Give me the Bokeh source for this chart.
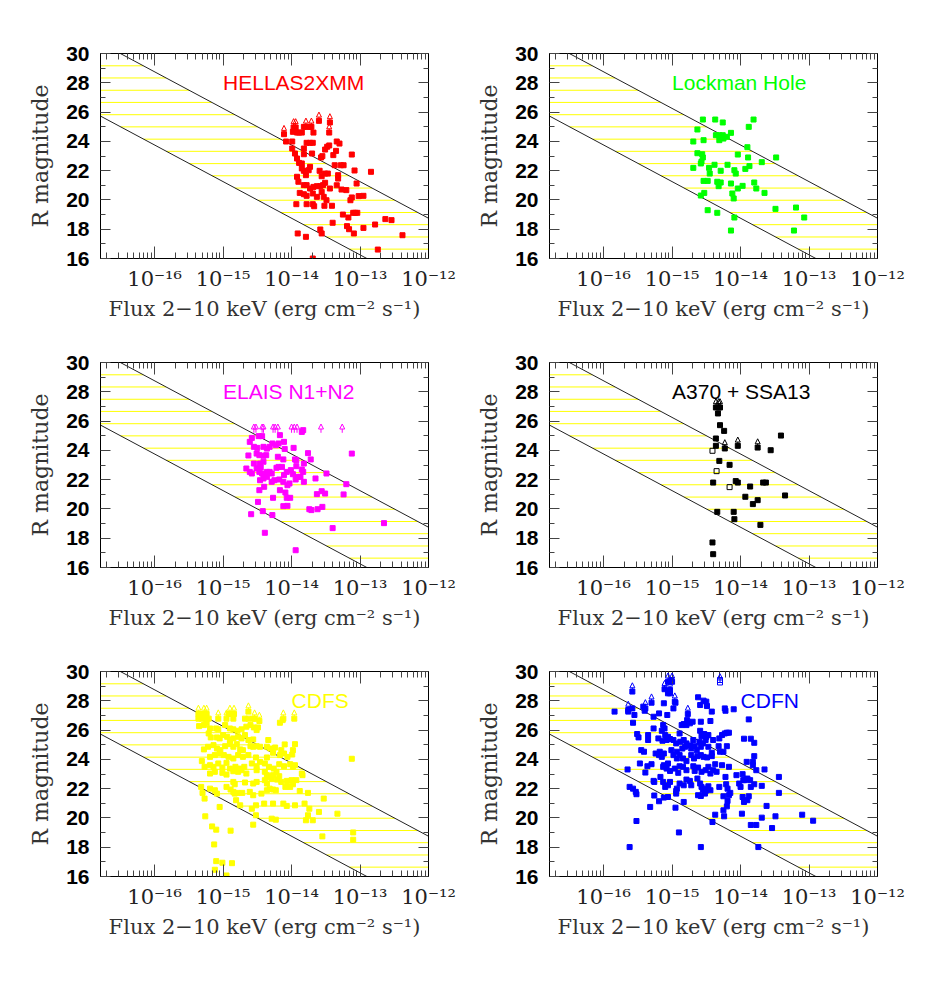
from bokeh.plotting import figure
from bokeh.models import (Range1d, LogAxis, LinearAxis, FixedTicker, CustomJSTickFormatter,
                          ColumnDataSource, Label, Arrow, NormalHead)
from bokeh.layouts import gridplot
from bokeh.embed import file_html
from bokeh.resources import INLINE

# ---------------- data: (log10 flux 2-10 keV [erg cm^-2 s^-1], R magnitude) ----------------
HELLAS = [(-14.08,23.99),(-13.99,23.99),(-13.98,24.65),(-13.92,24.60),(-13.89,24.60),(-13.85,24.60),(-13.82,24.99),(-13.73,24.99),(-13.68,24.60),(-13.99,23.51),
          (-13.95,23.17),(-13.92,22.83),(-13.89,22.53),(-13.85,22.49),(-13.82,23.12),(-13.82,23.51),(-13.78,23.90),(-13.73,23.90),(-13.69,23.90),(-13.70,23.17),
          (-13.57,22.90),(-13.55,22.99),(-13.51,23.44),(-13.48,23.63),(-13.45,23.72),(-13.39,23.06),(-13.35,23.35),(-13.34,23.99),(-13.30,23.85),(-13.37,22.37),
          (-13.28,22.37),(-13.24,22.37),(-13.12,23.10),(-13.08,22.01),(-12.84,21.92),(-13.05,21.12),(-13.32,21.69),(-13.32,21.46),(-13.59,21.99),(-13.56,21.62),
          (-13.51,21.80),(-13.47,21.80),(-13.92,21.58),(-13.90,21.24),(-13.85,22.15),(-13.82,21.99),(-13.79,21.69),(-13.75,22.03),(-13.73,22.26),(-13.82,21.01),
          (-13.78,21.01),(-13.73,20.78),(-13.68,20.89),(-13.63,20.94),(-13.58,20.94),(-13.54,21.01),(-13.51,21.17),(-13.44,20.78),(-13.34,21.00),(-13.27,20.71),
          (-13.20,20.67),(-13.88,20.48),(-13.82,20.39),(-13.78,20.28),(-13.69,20.44),(-13.63,20.21),(-13.56,20.55),(-13.53,20.21),(-13.49,19.98),(-13.93,19.71),
          (-13.78,19.71),(-13.69,19.71),(-13.67,19.57),(-13.52,19.60),(-13.41,19.60),(-13.14,19.98),(-13.12,20.17),(-13.02,20.26),(-12.95,20.28),(-13.25,19.00),
          (-13.17,18.80),(-13.10,19.12),(-13.07,19.12),(-13.04,19.12),(-13.40,18.44),(-13.19,18.21),(-13.16,18.00),(-13.09,17.71),(-12.95,18.09),(-12.78,18.32),
          (-12.63,18.69),(-12.54,18.62),(-12.38,17.59),(-12.74,16.61),(-13.91,17.71),(-13.79,17.48),(-13.58,17.98),(-13.56,17.71),(-13.69,16.00)]
HELLAS_LIM = [(-14.11,24.49),(-13.97,24.95),(-13.94,24.95),(-13.79,24.99),(-13.71,24.99),(-13.60,25.40),(-13.44,25.29),(-13.45,24.60)]

LOCKMAN = [(-14.55,25.49),(-14.37,25.49),(-14.26,25.29),(-13.81,25.49),(-13.88,24.99),(-14.63,24.81),(-14.36,24.42),(-14.31,24.42),(-14.26,24.42),(-14.25,24.19),
           (-14.31,24.08),(-14.14,24.58),(-14.20,24.31),(-14.69,23.99),(-14.54,24.08),(-13.90,23.60),(-14.63,23.19),(-14.56,23.12),(-14.55,22.90),(-14.57,22.62),
           (-14.58,22.49),(-14.69,22.19),(-14.46,22.19),(-14.45,21.80),(-14.38,22.40),(-14.29,21.99),(-14.19,22.40),(-14.09,22.03),(-14.07,21.80),(-14.04,23.10),
           (-13.89,22.90),(-13.93,22.12),(-13.87,22.31),(-13.69,22.58),(-13.48,22.90),(-14.54,21.30),(-14.48,21.30),(-14.34,21.24),(-14.32,20.94),(-14.29,21.19),
           (-14.14,21.12),(-14.04,20.78),(-13.97,20.96),(-13.80,21.19),(-13.77,20.78),(-13.65,20.48),(-14.53,20.48),(-14.58,20.30),(-14.12,20.44),(-14.10,20.10),
           (-14.48,19.30),(-14.34,19.12),(-14.09,18.80),(-13.49,19.39),(-13.19,19.48),(-13.07,18.80),(-14.14,17.91),(-13.22,17.91)]

ELAIS = [(-13.85,25.26),(-13.83,25.38),(-14.58,24.85),(-14.61,24.58),(-14.43,24.97),(-14.48,24.97),(-14.17,25.04),(-14.11,24.58),(-14.55,24.24),(-14.50,24.17),
         (-14.41,24.24),(-14.36,24.12),(-14.32,24.24),(-14.28,24.47),(-14.23,24.35),(-14.19,24.47),(-13.97,24.17),(-14.10,24.10),(-14.63,23.65),(-14.51,23.78),
         (-14.47,23.67),(-14.41,23.63),(-14.37,23.67),(-14.20,23.56),(-14.12,23.38),(-13.95,23.38),(-13.93,23.33),(-13.76,23.81),(-13.72,23.38),(-13.12,23.78),
         (-14.55,23.10),(-14.46,23.10),(-14.45,22.83),(-14.41,23.22),(-14.66,22.76),(-14.61,22.53),(-14.58,22.42),(-14.51,22.76),(-14.47,22.53),(-14.43,22.42),
         (-14.38,22.37),(-14.36,22.53),(-14.32,22.53),(-14.29,22.42),(-14.22,22.81),(-14.19,22.87),(-14.14,22.87),(-14.11,22.31),(-14.07,22.53),(-14.01,22.65),
         (-13.98,22.37),(-13.93,22.92),(-13.91,22.19),(-13.87,22.19),(-13.83,22.53),(-13.82,23.10),(-13.82,21.85),(-13.85,22.69),(-13.65,22.08),(-13.49,22.42),
         (-14.46,21.96),(-14.41,22.08),(-14.36,22.19),(-14.29,21.85),(-14.25,21.96),(-14.18,22.01),(-14.12,21.85),(-14.06,21.62),(-14.03,21.74),(-13.94,22.01),
         (-13.20,21.69),(-14.47,21.28),(-14.40,21.51),(-14.17,21.28),(-14.09,21.12),(-14.02,20.76),(-14.07,20.76),(-14.27,20.76),(-13.63,21.01),(-13.56,21.21),
         (-13.51,21.05),(-13.24,20.99),(-14.49,20.48),(-14.42,19.85),(-14.28,19.58),(-14.12,20.19),(-14.06,20.21),(-13.74,19.98),(-13.71,19.92),(-13.62,19.98),
         (-13.55,20.14),(-14.59,19.64),(-14.39,18.37),(-13.40,18.69),(-12.65,19.03),(-13.94,17.18)]
ELAIS_LIM = [(-14.55,25.2),(-14.52,25.2),(-14.43,25.2),(-14.41,25.2),(-14.27,25.2),(-14.24,25.2),(-14.20,25.2),(-14.00,25.2),(-13.96,25.2),(-13.92,25.2),(-13.57,25.2),(-13.26,25.2)]

A370 = [(-14.33,26.52),(-14.30,25.72),(-14.24,25.33),(-14.36,24.81),(-14.36,24.31),(-13.56,24.01),(-13.41,25.01),(-14.31,23.28),(-14.16,23.01),(-14.40,21.80),
        (-14.07,21.90),(-14.04,21.80),(-13.86,21.53),(-13.67,21.80),(-13.63,21.80),(-13.93,20.83),(-13.82,20.33),(-13.75,20.60),(-13.35,20.92),(-14.34,19.80),
        (-14.10,19.80),(-14.09,19.30),(-13.71,18.91),(-14.41,17.71),(-14.40,16.91)]
A370_OPEN = [(-14.41,23.97),(-14.35,22.58),(-14.16,21.49)]
A370_LIM = [(-14.36,26.93),(-14.32,26.93),(-14.30,26.93),(-14.23,24.13),(-14.04,24.31),(-13.75,24.19)]

CDFS = [(-15.32,27.10),(-14.92,27.10),(-14.87,27.10),(-15.36,26.78),(-15.31,26.78),(-15.26,26.78),(-15.21,26.78),(-14.85,26.78),(-14.68,26.78),(-14.63,26.78),
        (-14.56,26.78),(-14.17,26.50),(-14.13,26.68),(-15.35,26.27),(-15.28,26.34),(-15.24,26.46),(-15.19,26.11),(-15.10,26.11),(-15.07,26.05),(-14.97,26.34),
        (-14.90,26.11),(-14.85,26.05),(-14.79,25.95),(-14.73,26.05),(-14.66,26.23),(-14.60,26.34),(-14.55,26.18),(-14.51,26.00),(-14.49,26.18),(-15.21,25.77),
        (-15.18,25.50),(-15.09,25.50),(-15.05,25.43),(-15.00,25.66),(-14.94,25.54),(-14.90,25.32),(-14.85,25.43),(-14.78,25.54),(-14.73,25.43),(-14.68,25.66),
        (-14.63,25.32),(-14.56,25.36),(-14.34,25.32),(-13.95,25.04),(-14.10,25.02),(-15.28,24.68),(-15.22,24.86),(-15.14,24.97),(-15.09,24.74),(-15.04,24.63),
        (-14.97,24.90),(-14.90,25.04),(-14.85,24.86),(-14.80,25.04),(-14.75,24.68),(-14.71,24.63),(-14.60,24.90),(-14.56,24.86),(-14.51,24.90),(-14.46,24.86),
        (-14.36,24.86),(-14.31,24.74),(-14.24,24.81),(-14.15,24.63),(-13.98,24.63),(-15.31,23.88),(-15.19,24.17),(-15.12,24.29),(-15.05,24.40),(-14.99,24.29),
        (-14.92,24.17),(-14.85,24.06),(-14.78,24.29),(-14.71,24.17),(-14.63,24.29),(-14.52,24.13),(-14.36,24.13),(-14.27,24.45),(-14.17,24.29),(-14.11,24.40),
        (-14.06,24.17),(-13.99,24.33),(-13.12,24.04),(-15.27,23.49),(-15.19,23.60),(-15.14,23.49),(-15.07,23.72),(-15.01,23.44),(-14.95,23.76),(-14.90,23.37),
        (-14.82,23.49),(-14.76,23.37),(-14.69,23.49),(-14.58,23.72),(-14.51,23.53),(-14.46,23.83),(-14.39,23.72),(-14.33,23.49),(-14.26,23.37),(-14.18,23.67),
        (-14.11,23.53),(-14.02,23.67),(-13.98,23.49),(-13.95,23.60),(-15.19,23.03),(-15.12,23.15),(-15.01,23.08),(-14.95,22.96),(-14.85,23.19),(-14.78,23.15),
        (-14.73,23.26),(-14.66,23.03),(-14.51,23.26),(-14.39,23.15),(-14.36,22.92),(-14.32,22.80),(-14.27,22.92),(-14.22,23.15),(-14.18,22.85),(-13.85,23.03),
        (-13.84,22.92),(-14.85,22.46),(-14.83,22.30),(-14.68,22.42),(-14.56,22.35),(-14.51,22.46),(-14.39,22.58),(-14.36,22.35),(-14.29,22.69),(-14.21,22.62),
        (-14.15,22.46),(-14.07,22.53),(-14.00,22.58),(-13.93,22.58),(-15.32,22.12),(-15.30,21.71),(-15.27,21.32),(-15.19,22.00),(-15.12,21.89),(-15.09,21.66),
        (-14.95,22.12),(-14.89,21.94),(-14.85,21.78),(-14.83,21.66),(-14.79,21.71),(-14.72,21.71),(-14.61,21.78),(-14.56,21.55),(-14.44,21.66),(-14.36,21.89),
        (-14.32,22.00),(-14.27,21.94),(-14.23,21.89),(-14.09,22.12),(-14.06,22.16),(-14.02,22.12),(-13.98,22.30),(-13.88,21.84),(-13.76,21.71),(-13.53,21.32),
        (-14.81,21.21),(-14.75,20.86),(-14.58,20.63),(-14.52,20.86),(-14.40,20.98),(-14.27,20.98),(-14.12,20.98),(-14.07,20.82),(-13.95,20.86),(-13.81,20.98),
        (-13.74,20.63),(-13.60,20.41),(-13.33,20.29),(-15.26,20.11),(-15.05,20.75),(-14.52,20.18),(-14.29,19.95),(-14.23,19.88),(-13.79,19.84),(-13.69,19.84),
        (-13.76,20.18),(-15.16,19.42),(-15.10,19.20),(-14.56,19.54),(-14.89,19.13),(-13.55,18.74),(-13.10,19.01),(-13.10,18.51),(-15.13,18.19),(-15.10,17.05),
        (-15.01,16.94),(-14.87,16.91),(-15.12,16.46),(-14.95,16.07)]
CDFS_LIM = [(-15.36,27.10),(-15.28,27.10),(-15.24,27.10),(-15.07,26.78),(-14.95,26.78),(-14.90,27.10),(-14.84,27.10),(-14.63,27.26),(-14.54,26.78),(-14.47,26.62),
            (-14.12,26.78),(-13.96,26.78)]

CDFN = [(-15.84,27.26),(-15.64,27.26),(-15.58,27.48),(-15.55,27.03),(-15.42,27.60),(-15.40,27.32),(-15.27,26.91),(-15.19,27.14),(-15.12,27.83),(-15.06,28.51),
        (-15.03,28.51),(-15.07,27.03),(-14.98,27.48),(-14.95,27.87),(-15.03,29.31),(-15.01,29.42),(-14.62,28.24),(-14.59,27.71),(-14.54,28.01),(-14.50,27.94),
        (-14.49,27.64),(-14.42,27.26),(-14.23,27.48),(-14.22,27.32),(-14.10,27.42),(-13.88,26.73),(-14.78,26.68),(-15.57,26.50),(-15.51,25.73),(-15.49,25.50),
        (-15.35,25.66),(-15.27,26.11),(-15.13,26.34),(-15.11,26.11),(-15.15,25.95),(-15.10,25.66),(-15.06,25.54),(-14.89,25.77),(-14.86,26.34),(-14.83,26.41),
        (-14.79,26.34),(-14.74,26.46),(-14.70,26.57),(-14.58,26.57),(-14.44,26.62),(-14.59,25.95),(-14.53,25.73),(-14.57,25.59),(-14.50,25.54),(-14.47,25.66),
        (-14.27,25.66),(-14.31,25.43),(-14.23,25.77),(-14.20,25.82),(-14.17,25.82),(-13.95,25.41),(-13.85,25.41),(-13.80,25.13),(-15.35,25.32),(-15.20,25.43),
        (-15.14,25.27),(-15.08,25.32),(-15.03,25.39),(-14.98,25.32),(-14.94,25.09),(-14.88,25.20),(-14.83,25.32),(-14.79,25.09),(-14.74,24.95),(-14.69,25.32),
        (-14.67,24.90),(-14.60,25.20),(-14.55,25.09),(-14.51,25.32),(-14.40,25.32),(-14.32,24.90),(-14.20,24.90),(-14.30,24.52),(-14.25,24.52),(-15.45,24.63),
        (-15.41,24.52),(-15.18,24.52),(-15.12,24.40),(-15.01,24.63),(-14.93,24.52),(-14.85,24.74),(-14.81,24.86),(-14.72,24.74),(-14.64,24.63),(-14.58,24.86),
        (-14.47,24.86),(-14.42,24.45),(-15.47,23.72),(-15.36,23.53),(-15.30,23.67),(-15.24,24.40),(-15.19,24.29),(-15.15,24.17),(-15.12,23.60),(-15.06,23.72),
        (-14.98,24.29),(-14.93,24.06),(-14.89,24.29),(-14.84,24.06),(-14.79,23.88),(-14.72,24.29),(-14.68,24.06),(-14.63,24.22),(-14.58,24.29),(-14.54,24.17),
        (-14.49,24.13),(-14.42,24.22),(-14.37,23.67),(-14.27,23.60),(-14.17,23.49),(-13.91,23.83),(-13.82,23.83),(-13.80,24.22),(-13.82,23.60),(-15.65,23.31),
        (-15.39,23.10),(-15.27,22.53),(-15.13,23.49),(-15.08,23.37),(-15.03,23.21),(-14.96,23.37),(-14.91,23.08),(-14.89,23.53),(-14.84,23.49),(-14.79,23.26),
        (-14.69,23.53),(-14.67,23.21),(-14.62,23.44),(-14.57,23.15),(-14.51,23.26),(-14.47,23.49),(-14.44,23.03),(-14.40,23.26),(-14.35,23.15),(-14.22,22.80),
        (-14.06,22.92),(-13.97,22.99),(-13.94,22.58),(-13.90,22.69),(-13.86,22.58),(-13.77,23.26),(-13.65,23.31),(-13.44,22.80),(-15.62,22.12),(-15.57,22.00),
        (-15.53,21.78),(-15.52,21.62),(-15.26,22.46),(-15.17,22.80),(-15.13,22.46),(-15.10,22.12),(-15.06,22.23),(-15.03,22.46),(-14.93,22.00),(-14.89,22.35),
        (-14.83,22.23),(-14.79,22.62),(-14.74,22.53),(-14.72,22.23),(-14.63,22.69),(-14.59,22.35),(-14.57,22.12),(-14.55,21.89),(-14.52,21.66),(-14.50,22.00),
        (-14.47,22.16),(-14.44,21.89),(-14.31,22.12),(-14.21,22.30),(-14.19,22.00),(-14.15,21.71),(-14.17,21.55),(-14.02,22.35),(-14.00,22.12),(-13.96,22.58),
        (-13.85,22.12),(-13.80,22.30),(-13.69,22.19),(-13.44,21.71),(-15.26,21.53),(-15.19,21.14),(-15.12,21.39),(-15.06,21.43),(-14.94,21.84),(-14.94,21.66),
        (-14.83,21.09),(-14.25,21.48),(-14.19,21.16),(-14.20,20.79),(-13.97,21.43),(-13.95,21.09),(-13.90,21.21),(-13.88,21.48),(-13.62,20.82),(-15.32,20.75),
        (-14.95,20.70),(-14.62,21.55),(-14.58,21.50),(-14.51,21.84),(-14.37,20.22),(-14.25,20.52),(-14.24,20.11),(-13.98,20.29),(-13.69,20.02),(-13.49,20.11),
        (-13.10,20.22),(-12.94,19.81),(-14.41,19.72),(-15.52,19.79),(-14.90,19.01),(-13.85,19.52),(-13.77,19.52),(-13.54,19.31),(-15.62,18.01),(-14.58,18.01),
        (-13.74,18.01)]
CDFN_OPEN = [(-14.30,29.42),(-14.30,29.25)]
CDFN_LIM = [(-15.58,28.63),(-15.64,27.37),(-15.39,27.48),(-15.30,27.87),(-15.11,28.79),(-15.06,29.30),(-15.00,29.30),(-15.03,28.74),(-14.96,27.94),(-14.77,27.10)]
CDFN_OPEN_LIM = [(-14.30,29.25)]

# X/O = log(fx/fo) boundaries and hatch levels of the shaded band
XO_HI, XO_LO = 1.0, -1.0
HATCH_R = [29.16, 28.33, 27.49, 26.66, 25.82, 24.99, 24.15, 23.32, 22.48, 21.65, 20.81, 19.98, 19.14, 18.31, 17.47, 16.64]

X_TICKS = [1e-16, 1e-15, 1e-14, 1e-13, 1e-12]
X_MINOR = [k * 10.0 ** e for e in range(-17, -12) for k in range(2, 10)]
Y_TICKS = [16, 18, 20, 22, 24, 26, 28, 30]
Y_MINOR = [17, 19, 21, 23, 25, 27, 29]

SERIF = "DejaVu Serif"
SANS = "Liberation Sans"

SUP_FMT = """
const e = Math.round(Math.log10(tick));
const m = {'-':'\u207b','0':'\u2070','1':'\u00b9','2':'\u00b2','3':'\u00b3','4':'\u2074','5':'\u2075','6':'\u2076','7':'\u2077','8':'\u2078','9':'\u2079'};
return '10' + String(e).split('').map(c => m[c]).join('');
"""
BLANK_FMT = "return ' ';"


def r_of(xo, logf):
    return 2.5 * (xo - 5.5 - logf)


def logf_of(xo, r):
    return xo - 5.5 - r / 2.5


def style_axis(ax, major_in, minor_in):
    ax.major_tick_in = major_in
    ax.major_tick_out = 0
    ax.minor_tick_in = minor_in
    ax.minor_tick_out = 0
    ax.axis_line_color = "black"
    ax.axis_line_width = 1
    ax.major_tick_line_color = "#444444"
    ax.minor_tick_line_color = "#444444"


def make_panel(title, color, title_logf, pts, open_pts=(), lims=(), lim_square=True, open_lims=(),
               left=100, top=53):
    p = figure(x_axis_type="log", x_range=Range1d(10 ** -16.79, 1e-12), y_range=Range1d(16, 30),
               frame_width=328, frame_height=205, min_border_left=left, min_border_right=29,
               min_border_top=top, min_border_bottom=72, output_backend="svg",
               toolbar_location=None, tools="")
    p.grid.visible = False
    p.outline_line_color = "black"
    p.outline_line_width = 1
    p.background_fill_color = "white"
    p.border_fill_color = "white"

    xt = FixedTicker(ticks=X_TICKS, minor_ticks=X_MINOR)
    yt = FixedTicker(ticks=Y_TICKS, minor_ticks=Y_MINOR)

    xa = p.xaxis[0]
    xa.ticker = xt
    xa.formatter = CustomJSTickFormatter(code=SUP_FMT)
    style_axis(xa, 12, 6)
    xa.major_label_text_font = SERIF
    xa.major_label_text_font_size = "21px"
    xa.major_label_text_color = "#222222"
    xa.major_label_standoff = 8
    xa.axis_label = "Flux 2\u221210 keV (erg cm\u207b\u00b2 s\u207b\u00b9)"
    xa.axis_label_text_font = SERIF
    xa.axis_label_text_font_size = "21px"
    xa.axis_label_text_font_style = "normal"
    xa.axis_label_text_color = "#333333"
    xa.axis_label_standoff = 3

    ya = p.yaxis[0]
    ya.ticker = yt
    style_axis(ya, 10, 5)
    ya.major_label_text_font = SANS
    ya.major_label_text_font_size = "21px"
    ya.major_label_text_font_style = "bold"
    ya.major_label_text_color = "black"
    ya.major_label_standoff = 11
    ya.axis_label = "R magnitude"
    ya.axis_label_text_font = SERIF
    ya.axis_label_text_font_size = "22px"
    ya.axis_label_text_font_style = "normal"
    ya.axis_label_text_color = "#333333"
    ya.axis_label_standoff = 10

    top_ax = LogAxis(ticker=FixedTicker(ticks=X_TICKS, minor_ticks=X_MINOR),
                     formatter=CustomJSTickFormatter(code=BLANK_FMT), major_label_text_font_size="8px")
    style_axis(top_ax, 12, 6)
    p.add_layout(top_ax, "above")
    right_ax = LinearAxis(ticker=FixedTicker(ticks=Y_TICKS, minor_ticks=Y_MINOR),
                          formatter=CustomJSTickFormatter(code=BLANK_FMT), major_label_text_font_size="8px")
    style_axis(right_ax, 10, 5)
    p.add_layout(right_ax, "right")

    # hatched band between X/O = -1 and X/O = +1
    hx0 = [10 ** logf_of(XO_LO, r) for r in HATCH_R]
    hx1 = [10 ** logf_of(XO_HI, r) for r in HATCH_R]
    p.segment(x0=hx0, y0=HATCH_R, x1=hx1, y1=HATCH_R, line_color="#FFFF00", line_width=1)
    for xo in (XO_HI, XO_LO):
        lx = [-18.0, -11.0]
        p.line(x=[10 ** v for v in lx], y=[r_of(xo, v) for v in lx], line_color="#222222", line_width=1)

    def pts_src(arr):
        return ColumnDataSource(dict(x=[10 ** a for a, b in arr], y=[b for a, b in arr]))

    p.scatter("x", "y", source=pts_src(pts), marker="square", size=5, fill_color=color, line_color=color)
    if lims and lim_square:
        p.scatter("x", "y", source=pts_src(lims), marker="square", size=5, fill_color=color, line_color=color)
    if open_pts:
        p.scatter("x", "y", source=pts_src(open_pts), marker="square", size=5, fill_color=None,
                  line_color=color, line_width=1)
    for group in (lims, open_lims):
        if group:
            src = ColumnDataSource(dict(x=[10 ** a for a, b in group], y0=[b for a, b in group],
                                        y1=[b + 0.6 for a, b in group]))
            p.add_layout(Arrow(end=NormalHead(size=5, fill_alpha=0, line_color=color, line_width=1),
                               x_start="x", y_start="y0", x_end="x", y_end="y1", source=src,
                               line_color=color, line_width=1))

    p.add_layout(Label(x=10 ** title_logf, y=28.0, text=title, text_color=color, text_font=SANS,
                       text_font_size="21px", text_baseline="alphabetic", text_align="left"))
    return p


p1 = make_panel("HELLAS2XMM", "#FF0000", -15, HELLAS, lims=HELLAS_LIM, left=100, top=53)
p2 = make_panel("Lockman Hole", "#00FF00", -15, LOCKMAN, left=92, top=53)
p3 = make_panel("ELAIS N1+N2", "#FF00FF", -15, ELAIS, lims=ELAIS_LIM, lim_square=False, left=100, top=32)
p4 = make_panel("A370 + SSA13", "#000000", -15, A370, open_pts=A370_OPEN, lims=A370_LIM, left=92, top=32)
p5 = make_panel("CDFS", "#FFFF00", -14, CDFS, lims=CDFS_LIM, left=100, top=32)
p6 = make_panel("CDFN", "#0000FF", -14, CDFN, open_pts=CDFN_OPEN, lims=CDFN_LIM, open_lims=CDFN_OPEN_LIM,
                left=92, top=32)

grid = gridplot([[p1, p2], [p3, p4], [p5, p6]], toolbar_location=None)
open("out.html", "w").write(file_html(grid, INLINE))
